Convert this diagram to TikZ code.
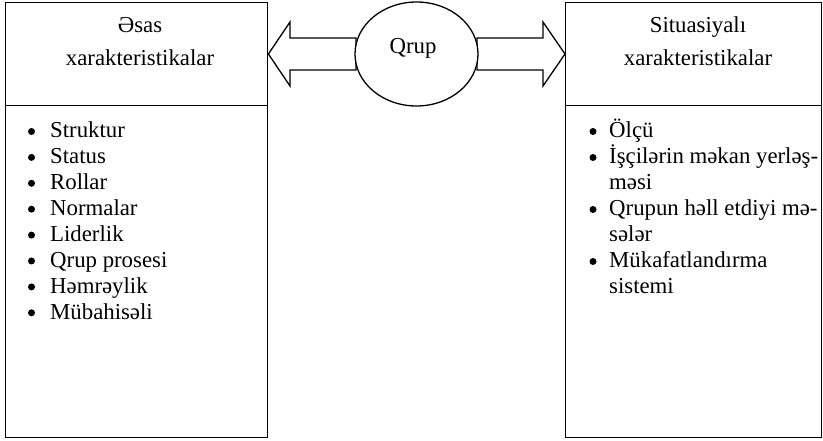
\documentclass[tikz,border=0pt]{standalone}
\usepackage{fontspec}
\setmainfont{Liberation Serif}
\usetikzlibrary{calc,shapes.geometric}

\tikzset{
  frame/.style={draw, line width=1.4pt, minimum width=262pt, minimum height=435pt,
    anchor=north west, inner sep=0pt},
  divider/.style={line width=1.4pt},
  blockarrow/.style={draw, line width=1.3pt, fill=white, line join=miter},
  group/.style={draw, ellipse, line width=1.3pt, fill=white, minimum width=123pt,
    minimum height=104pt, inner sep=0pt},
  headtext/.style={anchor=base, inner sep=0pt},
  itemtext/.style={anchor=base west, inner sep=0pt},
  dot/.style={circle, fill=black, inner sep=0pt, minimum size=7pt},
}

\begin{document}
\begin{tikzpicture}[x=1pt, y=-1pt, font=\fontsize{22.8}{26}\selectfont]
  \useasboundingbox (0,0) rectangle (823,441);

  % the two characteristic boxes
  \node[frame] (lbox) at (5,2) {};
  \node[frame, minimum width=256pt] (rbox) at (565,2) {};
  \draw[divider] ([yshift=-103.5pt]lbox.north west) -- ([yshift=-103.5pt]lbox.north east);
  \draw[divider] ([yshift=-103.5pt]rbox.north west) -- ([yshift=-103.5pt]rbox.north east);

  % block arrows from the group to both boxes
  \draw[blockarrow] (356,38) -- (290,38) -- (290,22) -- (lbox.east |- 0,54)
    -- (290,86) -- (290,70) -- (356,70) -- cycle;
  \draw[blockarrow] (477,38) -- (543,38) -- (543,22) -- (rbox.west |- 0,54)
    -- (543,86) -- (543,70) -- (477,70) -- cycle;

  % central group
  \node[group] (grp) at (416.5,54) {};
  \node[headtext] (grplabel) at (413,54) {Qrup};

  % headers
  \node[headtext] (lh1) at (140,33) {Əsas};
  \node[headtext] (lh2) at (140,66) {xarakteristikalar};
  \node[headtext] (rh1) at (698,33) {Situasiyalı};
  \node[headtext] (rh2) at (698,66) {xarakteristikalar};

  % basic characteristics
  \foreach \t [count=\i] in {Struktur, Status, Rollar, Normalar, Liderlik,
      Qrup prosesi, Həmrəylik, Mübahisəli} {
    \node[dot] (lb\i) at (31.5,{131.5+25.9*(\i-1)}) {};
    \node[itemtext] (li\i) at (50,{138+25.9*(\i-1)}) {\t};
  }

  % situational characteristics
  \node[dot] (rb1) at (593,131.5) {};
  \node[itemtext] (ri1) at (609,138) {Ölçü};
  \node[dot] (rb2) at (593,157.5) {};
  \node[itemtext] (ri2) at (609,164) {İşçilərin məkan yerləş-};
  \node[itemtext] (ri3) at (609,190) {məsi};
  \node[dot] (rb4) at (593,209.5) {};
  \node[itemtext] (ri4) at (609,216) {Qrupun həll etdiyi mə-};
  \node[itemtext] (ri5) at (609,242) {sələr};
  \node[dot] (rb6) at (593,261.5) {};
  \node[itemtext] (ri6) at (609,268) {Mükafatlandırma};
  \node[itemtext] (ri7) at (609,294) {sistemi};
\end{tikzpicture}
\end{document}
